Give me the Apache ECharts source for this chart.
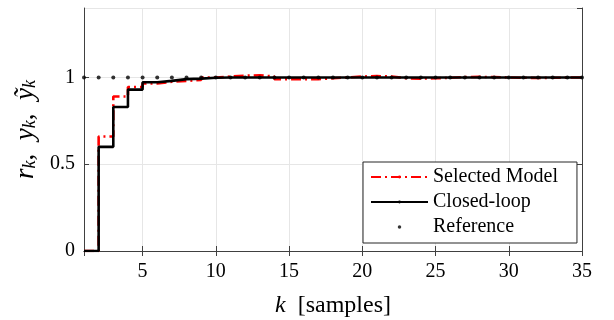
<!DOCTYPE html>
<html><head><meta charset="utf-8">
<script src="https://cdn.jsdelivr.net/npm/echarts@6/dist/echarts.min.js"></script>
<style>html,body{margin:0;padding:0;background:#fff}#c{width:614px;height:320px}</style>
</head><body><div id="c"></div>
<script>
const samples = [1,2,3,4,5,6,7,8,9,10,11,12,13,14,15,16,17,18,19,20,21,22,23,24,25,26,27,28,29,30,31,32,33,34,35];
const selectedModel = [0,0.66,0.89,0.945,0.965,0.975,0.98,0.985,1.0,1.005,1.01,1.012,1.005,0.99,0.99,0.99,0.995,1.0,1.005,1.008,1.005,0.995,0.993,0.995,0.998,1.002,1.003,1.002,1.0,0.998,0.997,0.998,0.999,1.0,1.0];
const closedLoop = [0,0.6,0.83,0.93,0.972,0.98,0.99,0.993,0.998,1.0,1.0,1.0,1.0,1.0,1.0,1.0,1.0,1.0,1.0,1.0,1.0,1.0,1.0,1.0,1.0,1.0,1.0,1.0,1.0,1.0,1.0,1.0,1.0,1.0,1.0];
const reference = [1,1,1,1,1,1,1,1,1,1,1,1,1,1,1,1,1,1,1,1,1,1,1,1,1,1,1,1,1,1,1,1,1,1,1];

const FF = '"Liberation Serif", "DejaVu Serif", serif';
const zip = a => samples.map((k,i)=>[k,a[i]]);
const AX = '#404040';
const axisLine = {show:true, lineStyle:{color:AX, width:1}};
const chart = echarts.init(document.getElementById('c'));
chart.setOption({
  animation:false,
  backgroundColor:'#fff',
  grid:{left:84, right:32, top:8, bottom:69, containLabel:false, outerBoundsMode:'none'},
  xAxis:[{
    type:'value', min:1, max:35, splitNumber:7,
    axisLine:axisLine,
    axisTick:{show:true, inside:true, length:5, lineStyle:{color:AX}},
    axisLabel:{showMinLabel:false, fontFamily:FF, fontSize:20, color:'#000', margin:11},
    splitLine:{show:true, lineStyle:{color:'#e6e6e6', width:1}},
    name:'{i|k}{n|  [samples]}', nameLocation:'middle', nameGap:43,
    nameTextStyle:{rich:{i:{fontFamily:FF, fontStyle:'italic', fontSize:24, color:'#000'}, n:{fontFamily:FF, fontSize:24, color:'#000'}}}
  },{
    type:'value', min:1, max:35, splitNumber:7, position:'top',
    axisLine:axisLine,
    axisTick:{show:true, inside:true, length:5, lineStyle:{color:AX}},
    axisLabel:{show:false}, splitLine:{show:false}
  }],
  yAxis:[{
    type:'value', min:0, max:1.4, splitNumber:3,
    axisLine:axisLine,
    axisTick:{show:true, inside:true, length:5, lineStyle:{color:AX}},
    axisLabel:{showMaxLabel:false, fontFamily:FF, fontSize:20, color:'#000', margin:9},
    splitLine:{show:true, lineStyle:{color:'#e6e6e6', width:1}},
    name:'{i|r}{s|k}{n|,  }{i|y}{s|k}{n|,  }{i|ỹ}{s|k}', nameLocation:'middle', nameGap:45,
    nameTextStyle:{rich:{
      i:{fontFamily:FF, fontStyle:'italic', fontSize:27, color:'#000', lineHeight:28, verticalAlign:'bottom'},
      n:{fontFamily:FF, fontSize:27, color:'#000', lineHeight:28, verticalAlign:'bottom'},
      s:{fontFamily:FF, fontStyle:'italic', fontSize:18, color:'#000', lineHeight:22, verticalAlign:'bottom'}
    }}
  },{
    type:'value', min:0, max:1.4, splitNumber:3, position:'right',
    axisLine:axisLine,
    axisTick:{show:true, inside:true, length:5, lineStyle:{color:AX}},
    axisLabel:{show:false}, splitLine:{show:false}
  }],
  legend:{
    left:363, top:162, orient:'vertical',
    itemWidth:57, itemHeight:3.5, itemGap:5,
    padding:[5,19,6,7],
    borderColor:'#262626', borderWidth:1, backgroundColor:'#fff',
    textStyle:{fontFamily:FF, fontSize:20, color:'#000', lineHeight:20},
    data:[
      {name:'Selected Model'},
      {name:'Closed-loop'},
      {name:'Reference', icon:'circle', itemStyle:{color:'#000'}}
    ]
  },
  series:[
    {name:'Selected Model', type:'line', step:'end', data:zip(selectedModel), showSymbol:false, symbol:'none',
     lineStyle:{color:'#ff0000', width:2.6, type:[10,4,2,4]}, itemStyle:{color:'#ff0000'}, z:3},
    {name:'Closed-loop', type:'line', step:'end', data:zip(closedLoop), showSymbol:false, symbol:'none',
     lineStyle:{color:'#000', width:2.6}, itemStyle:{color:'#000'}, z:4},
    {name:'Reference', type:'scatter', data:zip(reference), symbolSize:4, itemStyle:{color:'#000'}, z:5}
  ]
});
</script></body></html>
